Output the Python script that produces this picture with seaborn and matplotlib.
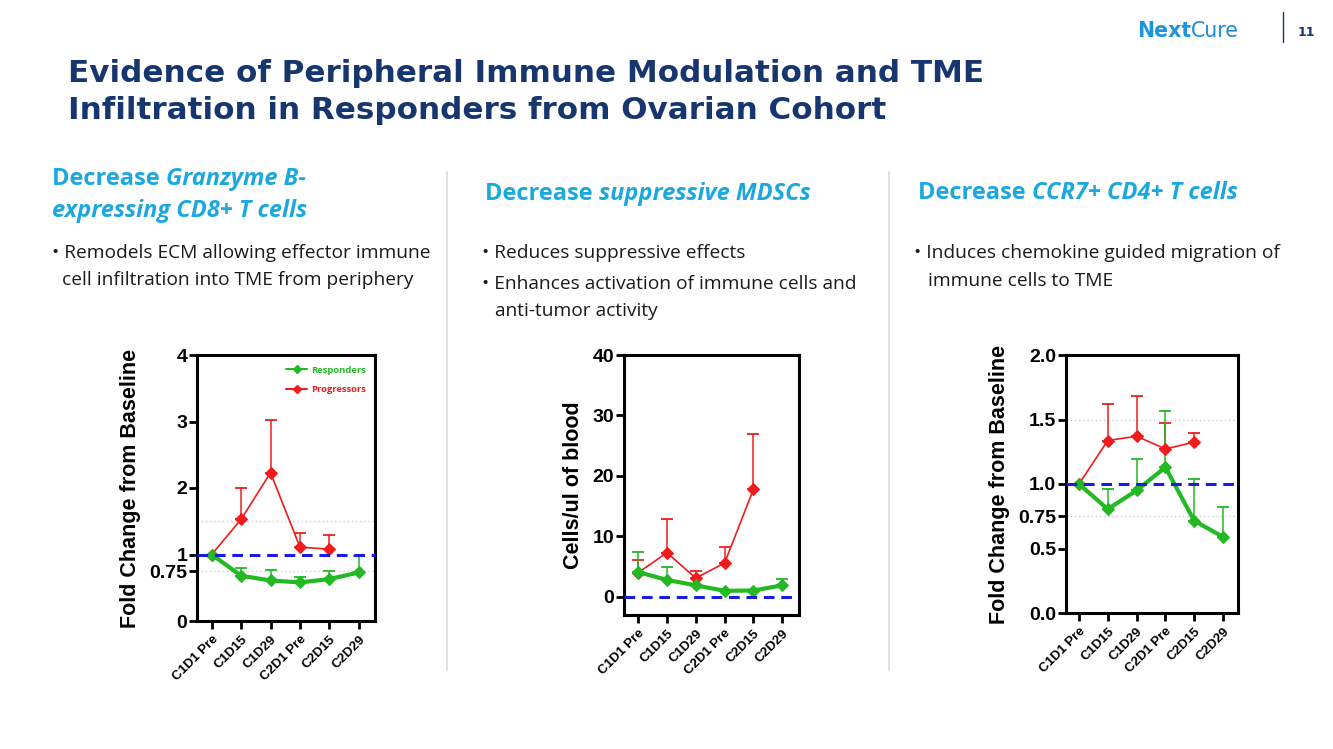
import matplotlib
matplotlib.use("Agg")
import matplotlib.pyplot as plt
import seaborn as sns
import numpy as np
import pandas as pd

sns.set_theme(style="white")
plt.rcParams['font.family'] = ['Liberation Sans', 'DejaVu Sans']
plt.rcParams['text.color'] = 'black'
plt.rcParams['axes.labelcolor'] = 'black'
plt.rcParams['xtick.color'] = 'black'
plt.rcParams['ytick.color'] = 'black'

# ---------------- data ----------------
timepoints = ["C1D1 Pre", "C1D15", "C1D29", "C2D1 Pre", "C2D15", "C2D29"]
groups = ["Responders", "Progressors"]

# Panel 1: Granzyme B+ CD8+ T cells (fold change)
p1_resp = [1.0, 0.68, 0.61, 0.58, 0.63, 0.73]
p1_resp_upper = [1.0, 0.80, 0.77, 0.66, 0.75, 0.97]
p1_prog = [1.0, 1.53, 2.23, 1.11, 1.08]
p1_prog_upper = [1.0, 2.00, 3.03, 1.33, 1.30]

# Panel 2: MDSCs (cells/ul of blood)
p2_resp = [4.1, 2.8, 1.9, 1.0, 1.05, 1.9]
p2_resp_upper = [7.5, 5.0, 1.9, 1.0, 1.05, 2.9]
p2_prog = [4.0, 7.3, 3.1, 5.6, 17.8]
p2_prog_upper = [6.1, 12.9, 4.2, 8.3, 26.9]

# Panel 3: CCR7+ CD4+ T cells (fold change)
p3_resp = [1.0, 0.805, 0.95, 1.13, 0.715, 0.59]
p3_resp_upper = [1.0, 0.965, 1.195, 1.564, 1.037, 0.82]
p3_prog = [1.0, 1.337, 1.37, 1.272, 1.324]
p3_prog_upper = [1.0, 1.62, 1.685, 1.47, 1.394]

p1_yticks = [0, 0.75, 1, 2, 3, 4]
p1_yticklabels = ["0", "0.75", "1", "2", "3", "4"]
p2_yticks = [0, 10, 20, 30, 40]
p3_yticks = [0.0, 0.5, 0.75, 1.0, 1.5, 2.0]
p3_yticklabels = ["0.0", "0.5", "0.75", "1.0", "1.5", "2.0"]

title_lines = ["Evidence of Peripheral Immune Modulation and TME",
               "Infiltration in Responders from Ovarian Cohort"]

GREEN = "#22b922"
RED = "#ee1c1c"
BLUE = "#1c1ce0"
NAVY = "#17366f"
CYAN = "#1aa8df"

W, H = 1333, 749
fig = plt.figure(figsize=(W / 100, H / 100), dpi=100)
fig.patch.set_facecolor("white")


def fx(px):
    return px / W


def fy(py):
    return 1 - py / H


def make_ax(x0, x1, y0, y1):
    return fig.add_axes([fx(x0), fy(y1), fx(x1 - x0), (y1 - y0) / H])


def build_df(resp, resp_up, prog, prog_up):
    rows = []
    for i, t in enumerate(timepoints[:len(resp)]):
        rows.append(dict(time=t, group="Responders", value=resp[i], upper=resp_up[i]))
    for i, t in enumerate(timepoints[:len(prog)]):
        rows.append(dict(time=t, group="Progressors", value=prog[i], upper=prog_up[i]))
    return pd.DataFrame(rows)


def draw_panel(ax, df, ylim, yticks, yticklabels, ylabel, refline, grid_lines, xlim, legend=False):
    xpos = {t: i for i, t in enumerate(timepoints)}
    df = df.copy()
    df["x"] = df["time"].map(xpos)
    for g, color, lw in [("Progressors", RED, 1.2), ("Responders", GREEN, 3.0)]:
        sub = df[df.group == g]
        err = np.clip(sub["upper"].values - sub["value"].values, 0, None)
        ax.errorbar(sub["x"], sub["value"], yerr=[np.zeros_like(err), err], fmt="none",
                    ecolor=color, elinewidth=1.1, capsize=4, capthick=1.3, zorder=3)
        sns.lineplot(data=sub, x="x", y="value", ax=ax, color=color, lw=lw,
                     marker="D", markersize=6.5, markeredgecolor=color, sort=False,
                     label=g, legend=False, zorder=4, errorbar=None)
    for gl in grid_lines:
        ax.axhline(gl, color="#c9c9e0", lw=1.0, ls=(0, (1, 2)), zorder=1)
    ax.axhline(refline, color=BLUE, lw=2.2, ls=(0, (3.5, 2.2)), zorder=5)
    ax.set_xlim(*xlim)
    ax.set_ylim(*ylim)
    ax.set_xticks(range(len(timepoints)))
    ax.set_xticklabels(timepoints, rotation=45, ha="right", rotation_mode="anchor",
                       fontsize=9.5, fontweight="bold", color="black")
    ax.set_yticks(yticks)
    ax.set_yticklabels(yticklabels, fontsize=14, fontweight="bold", color="black")
    ax.set_xlabel("")
    ax.set_ylabel(ylabel, fontsize=15.5, fontweight="bold", labelpad=6, color="black")
    for s in ax.spines.values():
        s.set_visible(True)
        s.set_color("black")
        s.set_linewidth(2.2)
    ax.tick_params(axis="both", which="both", length=6, width=2, color="black",
                   direction="out", bottom=True, left=True, pad=1)
    ax.tick_params(axis="x", pad=3)
    ax.set_facecolor("white")
    ax.grid(False)
    if legend:
        handles = [
            plt.Line2D([], [], color=GREEN, lw=1.5, marker="D", markersize=4.5),
            plt.Line2D([], [], color=RED, lw=1.5, marker="D", markersize=4.5),
        ]
        leg = ax.legend(handles, groups, loc="upper right", frameon=False,
                        handlelength=2.2, borderaxespad=0.6,
                        labelspacing=1.1, handletextpad=0.4,
                        bbox_to_anchor=(1.0, 0.995),
                        prop=dict(family="Open Sans", weight="bold", size=6.8))
        for txt, c in zip(leg.get_texts(), [GREEN, RED]):
            txt.set_color(c)


ax1 = make_ax(197, 375, 355, 621)
draw_panel(ax1, build_df(p1_resp, p1_resp_upper, p1_prog, p1_prog_upper), (0, 4),
           p1_yticks, p1_yticklabels, "Fold Change from Baseline", 1.0, [0.75, 1.5],
           (-0.5, 5.55), legend=True)

ax2 = make_ax(624, 799, 355, 615)
draw_panel(ax2, build_df(p2_resp, p2_resp_upper, p2_prog, p2_prog_upper), (-3, 40),
           p2_yticks, [str(v) for v in p2_yticks], "Cells/ul of blood", 0.0, [],
           (-0.49, 5.58))

ax3 = make_ax(1066, 1238, 355, 613)
draw_panel(ax3, build_df(p3_resp, p3_resp_upper, p3_prog, p3_prog_upper), (0, 2),
           p3_yticks, p3_yticklabels, "Fold Change from Baseline", 1.0, [0.75, 1.5],
           (-0.45, 5.52))

# ---------------- slide text ----------------
for i, line in enumerate(title_lines):
    fig.text(fx(68), fy(82 + i * 37), line, fontsize=22.3, fontweight="bold",
             color=NAVY, family="DejaVu Sans", va="baseline", ha="left")

hfont = dict(family="Open Sans", fontsize=17, fontweight="bold", color=CYAN, va="baseline")
bfont = dict(family="Open Sans", fontsize=13.8, color="#1a1a1a", va="baseline")


def header(x, y, plain, italic):
    t = fig.text(fx(x), fy(y), plain, **hfont)
    fig.canvas.draw()
    bb = t.get_window_extent()
    fig.text(bb.x1 / W, fy(y), italic, style="italic", **hfont)


header(52, 185, "Decrease ", "Granzyme B-")
fig.text(fx(52), fy(217), "expressing CD8+ T cells", style="italic", **hfont)
header(485, 200, "Decrease ", "suppressive MDSCs")
header(918, 199, "Decrease ", "CCR7+ CD4+ T cells")

bul = [
    (52, 258, "• Remodels ECM allowing effector immune"),
    (62, 285, "cell infiltration into TME from periphery"),
    (482, 258, "• Reduces suppressive effects"),
    (482, 289, "• Enhances activation of immune cells and"),
    (495, 316, "anti-tumor activity"),
    (914, 258, "• Induces chemokine guided migration of"),
    (928, 286, "immune cells to TME"),
]
for x, y, s in bul:
    fig.text(fx(x), fy(y), s, **bfont)

# separators
for xs in (447, 889):
    fig.add_artist(plt.Line2D([fx(xs), fx(xs)], [fy(172), fy(670)], color="#dcdcdc", lw=1.2))

# logo
t1 = fig.text(fx(1137), fy(37), "Next", family="DejaVu Sans", fontsize=14.8,
              fontweight="bold", color="#1b95dc", va="baseline")
fig.canvas.draw()
bb = t1.get_window_extent()
fig.text(bb.x1 / W, fy(37), "Cure", family="DejaVu Sans", fontsize=14.8,
         color="#1b8ad6", va="baseline")
fig.add_artist(plt.Line2D([fx(1283), fx(1283)], [fy(12), fy(42)], color="#17366f", lw=1.0))
fig.text(fx(1298), fy(36), "11", family="DejaVu Sans", fontsize=9, fontweight="bold",
         color=NAVY, va="baseline")

fig.savefig("out.png", dpi=100, facecolor="white")
